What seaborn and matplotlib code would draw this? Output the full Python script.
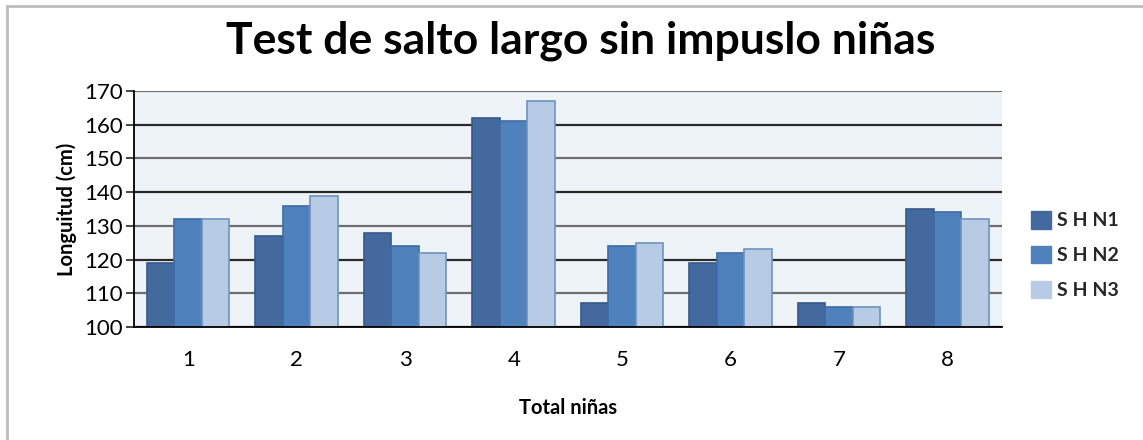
import matplotlib
matplotlib.use('Agg')
import matplotlib.pyplot as plt
import matplotlib.patches as mpatches
import seaborn as sns
import pandas as pd

categorias = ['1', '2', '3', '4', '5', '6', '7', '8']
shn1 = [119, 127, 128, 162, 107, 119, 107, 135]
shn2 = [132, 136, 124, 161, 124, 122, 106, 134]
shn3 = [132, 139, 122, 167, 125, 123, 106, 132]
series = ['S H N1', 'S H N2', 'S H N3']
colores = ['#43699E', '#4F81BD', '#B7CCE4']
bordes = ['#365A8A', '#3D6CA5', '#6E93C0']

df = pd.DataFrame({
    'nina': categorias * 3,
    'serie': [series[0]] * 8 + [series[1]] * 8 + [series[2]] * 8,
    'valor': shn1 + shn2 + shn3,
})

sns.set_style('white')
plt.rcParams['font.family'] = ['Lato', 'DejaVu Sans']

fig = plt.figure(figsize=(11.43, 4.4), dpi=100)
ax = fig.add_axes([0.1172, 0.2568, 0.7594, 0.5364])

sns.barplot(data=df, x='nina', y='valor', hue='serie', palette=colores,
            width=0.76, ax=ax, legend=False, saturation=1)

# bordes de cada serie
for cont, borde in zip(ax.containers, bordes):
    for barra in cont:
        barra.set_edgecolor(borde)
        barra.set_linewidth(1.2)

ax.set_facecolor('#EEF3F8')
ax.set_ylim(100, 170)
ax.set_xlim(-0.5, 7.5)
ax.set_yticks(range(100, 171, 10))
ax.set_axisbelow(True)
ax.yaxis.grid(True, color='#2A2A2A', linewidth=1.6)
for i, linea in enumerate(ax.get_ygridlines()):
    if i % 2 == 1:
        linea.set_color('#6E6E6E')

for lado in ['top', 'right']:
    ax.spines[lado].set_visible(False)
ax.spines['left'].set_color('black')
ax.spines['bottom'].set_color('black')
ax.spines['left'].set_linewidth(1.3)
ax.spines['bottom'].set_linewidth(1.3)

ax.tick_params(axis='y', left=True, length=6, width=1.2, labelsize=16,
               pad=2, labelcolor='black')
ax.tick_params(axis='x', bottom=False, labelsize=16, pad=13, labelcolor='black')

ax.set_xlabel('Total niñas', fontsize=14.5, fontweight='bold', labelpad=20,
              color='black')
ax.set_ylabel('Longuitud (cm)', fontsize=14.5, fontweight='bold', labelpad=5,
              color='black')

fig.suptitle('Test de salto largo sin impuslo niñas', fontsize=32,
             fontweight='bold', x=0.508, y=0.953, color='black')

handles = [mpatches.Patch(facecolor=c, edgecolor=c) for c in colores]
fig.legend(handles, series, loc='center left', bbox_to_anchor=(0.887, 0.42),
           frameon=False, handlelength=1.0, handleheight=1.0,
           handletextpad=0.3, labelspacing=0.85,
           prop={'weight': 'bold', 'size': 14})

# marco gris del gráfico
marco = mpatches.Rectangle((7 / 1143, -0.1), 1.2, 1.1 - 6 / 440,
                           transform=fig.transFigure, fill=False,
                           edgecolor='#BDBDBD', linewidth=2)
fig.patches.append(marco)

plt.savefig('out.png', dpi=100)
plt.close()
